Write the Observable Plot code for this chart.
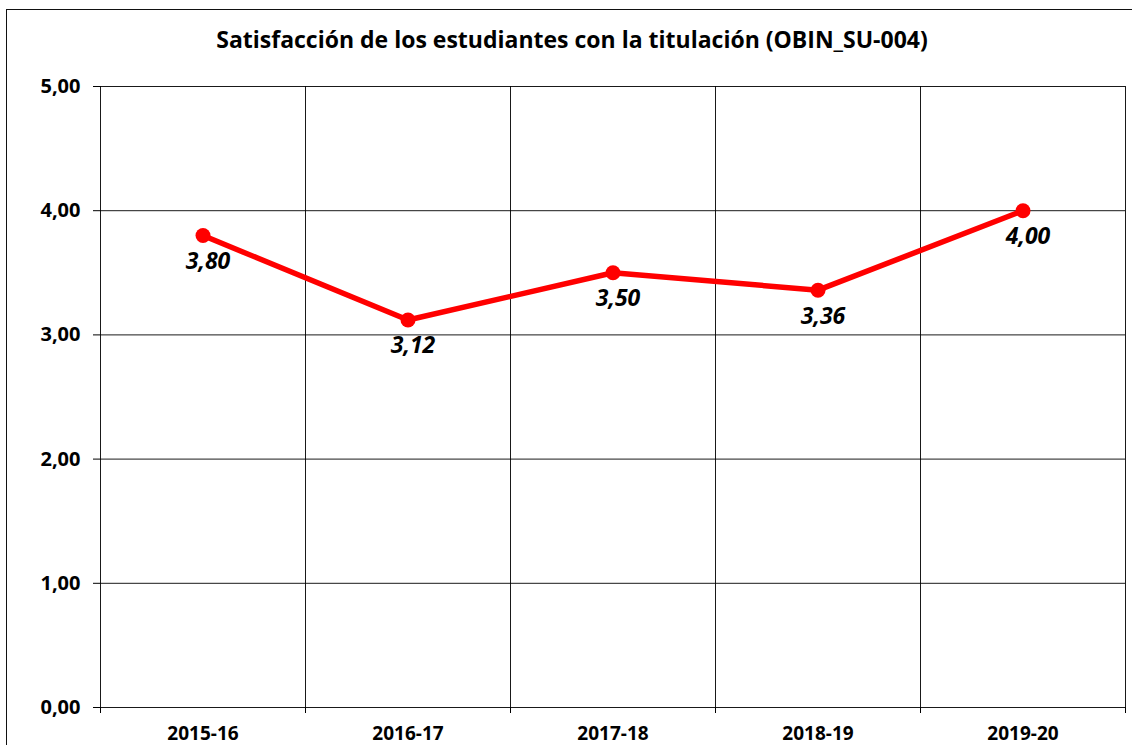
<!DOCTYPE html>
<html>
<head>
<meta charset="utf-8">
<script src="https://cdn.jsdelivr.net/npm/d3@7"></script>
<script src="https://cdn.jsdelivr.net/npm/@observablehq/plot@0.6"></script>
<style>
  html, body { margin: 0; padding: 0; background: #fff; overflow: hidden; }
  #wrap { position: relative; width: 1132px; height: 745px; font-family: "Open Sans", Lato, sans-serif; }
  #frame { position: absolute; left: 6px; top: 9px; width: 1300px; height: 900px; border-top: 1.5px solid #111; border-left: 1.5px solid #111; }
  #title { position: absolute; left: 0; width: 1144px; top: 23px; text-align: center; font-size: 23px; font-weight: bold; color: #000; }
  #chart { position: absolute; left: 0; top: 0; }
</style>
</head>
<body>
<div id="wrap">
  <div id="frame"></div>
  <div id="chart"></div>
  <div id="title">Satisfacción de los estudiantes con la titulación (OBIN_SU-004)</div>
</div>
<script>
const categories = ["2015-16", "2016-17", "2017-18", "2018-19", "2019-20"];
const values = [3.80, 3.12, 3.50, 3.36, 4.00];
const yTicks = [0, 1, 2, 3, 4, 5];

const fmt = v => v.toFixed(2).replace(".", ",");
const data = categories.map((c, i) => ({i, cat: c, v: values[i]}));
const idx = categories.map((c, i) => i);
const bounds = d3.range(categories.length + 1).map(i => i - 0.5);

const chart = Plot.plot({
  width: 1132,
  height: 745,
  marginLeft: 100,
  marginRight: 7,
  marginTop: 86,
  marginBottom: 38,
  style: {fontFamily: "'Open Sans', Lato, sans-serif", background: "transparent", color: "#000"},
  x: {type: "linear", domain: [-0.5, categories.length - 0.5]},
  y: {domain: [0, 5]},
  marks: [
    Plot.ruleY(yTicks, {y: d => d, stroke: "#000", strokeWidth: 1, strokeOpacity: 0.9}),
    Plot.ruleX(bounds, {x: d => d, y1: 0, y2: 5, stroke: "#000", strokeWidth: 1, strokeOpacity: 0.9}),
    Plot.axisY({ticks: yTicks, tickFormat: fmt, tickSize: 7, tickPadding: 13, fontSize: 20, fontWeight: "bold", label: null, stroke: "#000"}),
    Plot.axisX({ticks: bounds, tickFormat: () => "", tickSize: 6, label: null, stroke: "#000"}),
    Plot.axisX({ticks: idx, tickFormat: i => categories[i], tickSize: 0, tickPadding: 19, fontSize: 19, fontWeight: "bold", label: null}),
    Plot.line(data, {x: "i", y: "v", stroke: "#ff0000", strokeWidth: 5.5}),
    Plot.dot(data, {x: "i", y: "v", r: 7.5, fill: "#ff0000", stroke: "none"}),
    Plot.text(data, {x: "i", y: "v", text: d => fmt(d.v), dy: 26, dx: 5, fontSize: 23, fontWeight: "bold", fontStyle: "italic", fill: "#000"})
  ]
});
document.getElementById("chart").appendChild(chart);
</script>
</body>
</html>
